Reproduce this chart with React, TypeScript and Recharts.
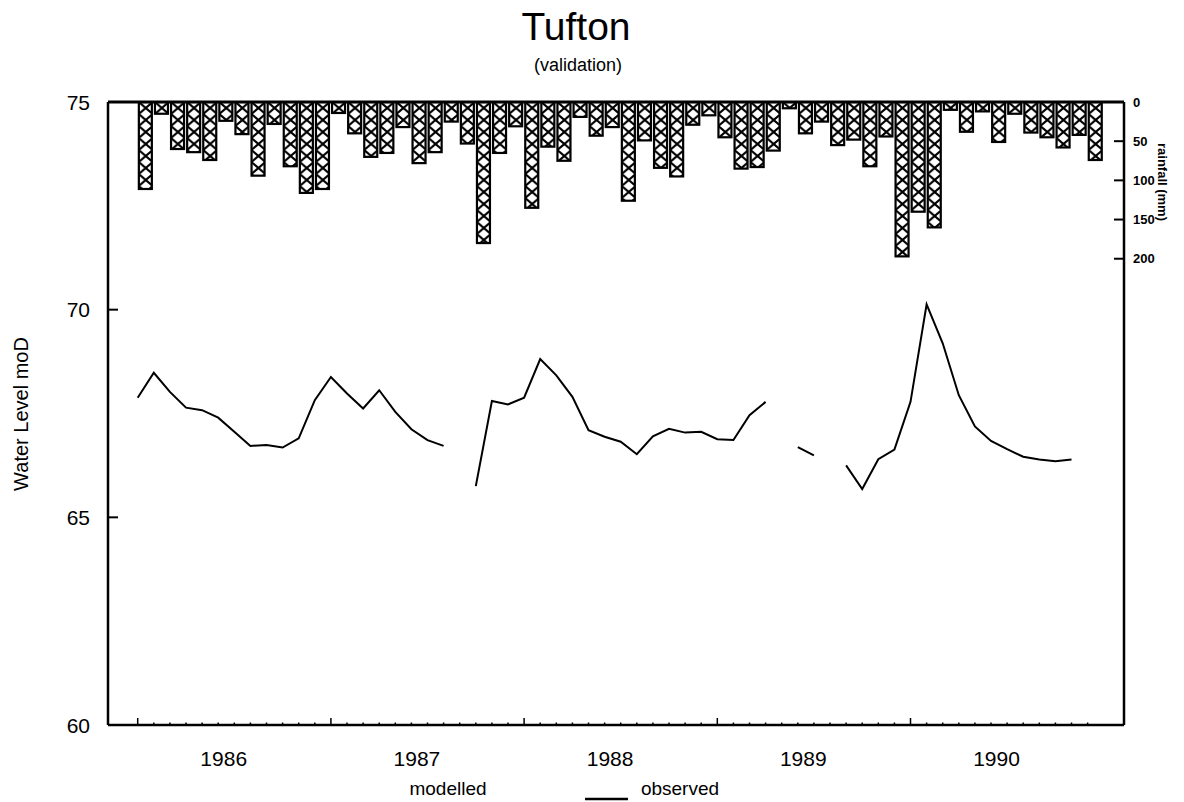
import { ComposedChart, Bar, Line, XAxis, YAxis, ReferenceLine } from "recharts";

const FONT = "'Liberation Sans', Arial, Helvetica, sans-serif";

// monthly rainfall, Jan 1986 .. Dec 1990 (mm)
const rainfallMm = [
  111, 15, 60, 64, 74, 24, 41, 94, 28, 82, 116, 111,
  14, 40, 70, 65, 32, 78, 64, 25, 53, 180, 65, 31,
  135, 57, 75, 19, 43, 32, 126, 49, 84, 95, 29, 17,
  45, 85, 83, 62, 8, 40, 25, 55, 48, 82, 44, 197,
  140, 160, 10, 38, 12, 51, 15, 39, 45, 58, 42, 74,
];

// observed water level at the start of each month from Jan 1986 (m OD), null = no record
const observedLevel = [
  67.88, 68.48, 68.02, 67.64, 67.58, 67.4, 67.06, 66.72, 66.74, 66.68, 66.9, 67.82,
  68.38, 67.98, 67.62, 68.06, 67.54, 67.12, 66.86, 66.72, null, 65.75, 67.8, 67.72,
  67.88, 68.81, 68.42, 67.9, 67.1, 66.94, 66.82, 66.52, 66.95, 67.13, 67.04, 67.06,
  66.88, 66.86, 67.46, 67.78, null, 66.69, 66.49, null, 66.25, 65.68, 66.4, 66.63,
  67.78, 70.13, 69.19, 67.94, 67.19, 66.84, 66.64, 66.46, 66.39, 66.35, 66.39,
];

const yearLabels = ["1986", "1987", "1988", "1989", "1990"];
const monthTicks = rainfallMm.map((_, i) => i);
const levelTicks = [60, 65, 70, 75];
const rainTicks = [0, 50, 100, 150, 200];

const rainData = rainfallMm.map((rain, i) => ({ t: i + 0.5, rain }));
const obsData = observedLevel.map((level, i) => ({ t: i, level }));

function MonthTick(props: any) {
  const { x, y, payload } = props;
  const m = payload.value as number;
  const jan = m % 12 === 0;
  return (
    <g>
      <line x1={x} x2={x} y1={y} y2={y - (jan ? 7 : 2.5)} stroke="#000" strokeWidth={1.5} />
      {jan && (
        <text x={x + 86} y={y + 41} textAnchor="middle" fontSize={21} fontFamily={FONT} fill="#000">
          {yearLabels[m / 12]}
        </text>
      )}
    </g>
  );
}

function LevelTick(props: any) {
  const { x, y, payload } = props;
  return (
    <g>
      <line x1={x} x2={x + 10} y1={y} y2={y} stroke="#000" strokeWidth={2} />
      <text x={x - 18} y={y + 7.5} textAnchor="end" fontSize={21} fontFamily={FONT} fill="#000">
        {payload.value}
      </text>
    </g>
  );
}

function RainTick(props: any) {
  const { x, y, payload } = props;
  return (
    <g>
      <line x1={x - 10} x2={x} y1={y} y2={y} stroke="#000" strokeWidth={2} />
      <text x={x + 9} y={y + 4.5} textAnchor="start" fontSize={13} fontWeight="bold" fontFamily={FONT} fill="#000">
        {payload.value}
      </text>
    </g>
  );
}

// hatched rainfall bar, hung from the top edge
function RainBar(props: any) {
  const { x, y, width, height } = props;
  const cx = x + width / 2;
  const top = Math.min(y, y + height);
  const h = Math.abs(height);
  return (
    <rect x={cx - 6.5} y={top} width={13} height={h} fill="url(#hatch)" stroke="#000" strokeWidth={2.2} />
  );
}

export default function App() {
  return (
    <div style={{ position: "absolute", left: 0, top: 0, width: 1184, height: 802, background: "#fff" }}>
      <svg width={0} height={0} style={{ position: "absolute" }}>
        <defs>
          <pattern id="hatch" patternUnits="userSpaceOnUse" x={137.7} y={102} width={16.1} height={12}>
            <rect x={0} y={0} width={16.1} height={12} fill="#fff" />
            <line x1={1} y1={0} x2={15.1} y2={12} stroke="#000" strokeWidth={2.2} />
            <line x1={15.1} y1={0} x2={1} y2={12} stroke="#000" strokeWidth={2.2} />
          </pattern>
        </defs>
      </svg>

      <ComposedChart
        width={1184}
        height={802}
        data={rainData}
        margin={{ top: 102, right: 10, bottom: 37, left: 48 }}
      >
        <XAxis
          xAxisId="x"
          type="number"
          dataKey="t"
          domain={[-1.845, 61.26]}
          allowDataOverflow
          ticks={monthTicks}
          interval={0}
          tickSize={0}
          tickMargin={0}
          tickLine={false}
          tick={<MonthTick />}
          axisLine={{ stroke: "#000", strokeWidth: 2.5 }}
          height={40}
        />
        <YAxis
          yAxisId="left"
          type="number"
          domain={[60, 75]}
          ticks={levelTicks}
          interval={0}
          tickSize={0}
          tickMargin={0}
          tickLine={false}
          tick={<LevelTick />}
          axisLine={{ stroke: "#000", strokeWidth: 2.5 }}
          width={60}
        />
        <YAxis
          yAxisId="right"
          orientation="right"
          type="number"
          domain={[0, 795]}
          reversed
          allowDataOverflow
          ticks={rainTicks}
          interval={0}
          tickSize={0}
          tickMargin={0}
          tickLine={false}
          tick={<RainTick />}
          axisLine={{ stroke: "#000", strokeWidth: 2.5 }}
          width={50}
        />
        <Bar
          xAxisId="x"
          yAxisId="right"
          dataKey="rain"
          barSize={13}
          shape={<RainBar />}
          isAnimationActive={false}
        />
        <ReferenceLine xAxisId="x" yAxisId="left" y={75} stroke="#000" strokeWidth={3} />
        <Line
          xAxisId="x"
          yAxisId="left"
          data={obsData}
          dataKey="level"
          type="linear"
          stroke="#000"
          strokeWidth={2}
          dot={false}
          connectNulls={false}
          isAnimationActive={false}
        />
      </ComposedChart>

      <svg
        width={1184}
        height={802}
        style={{ position: "absolute", left: 0, top: 0, pointerEvents: "none" }}
        fontFamily={FONT}
      >
        <text x={576} y={40} textAnchor="middle" fontSize={39} fill="#000">Tufton</text>
        <text x={578} y={71} textAnchor="middle" fontSize={18} fill="#000">(validation)</text>
        <text transform="translate(28,414) rotate(-90)" textAnchor="middle" fontSize={20} fill="#000">
          Water Level moD
        </text>
        <text transform="translate(1158,182) rotate(90)" textAnchor="middle" fontSize={13} fontWeight="bold" fill="#000">
          rainfall (mm)
        </text>
        <text x={448} y={795} textAnchor="middle" fontSize={19} fill="#000">modelled</text>
        <text x={680} y={795} textAnchor="middle" fontSize={19} fill="#000">observed</text>
        <line x1={585} x2={628} y1={799} y2={799} stroke="#000" strokeWidth={2.5} />
      </svg>
    </div>
  );
}
